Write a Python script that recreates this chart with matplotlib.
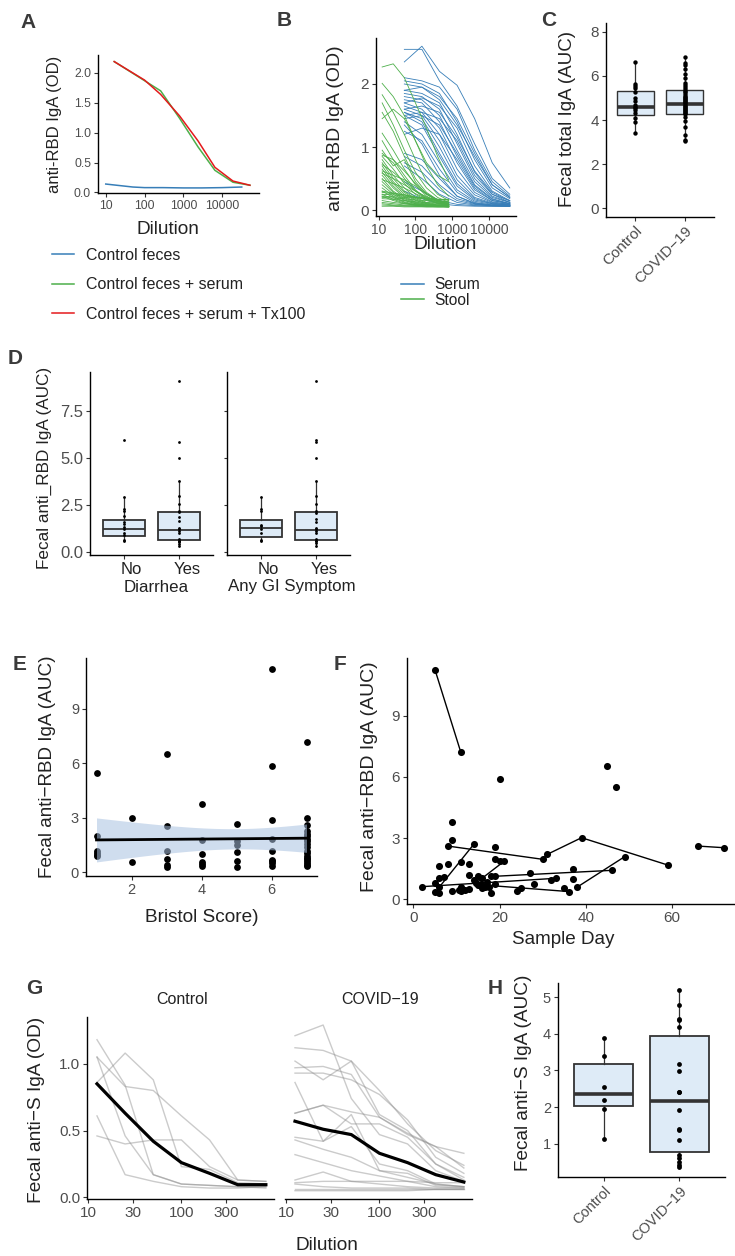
import numpy as np
import matplotlib
matplotlib.use('Agg')
import matplotlib.pyplot as plt
from matplotlib.ticker import NullLocator
from matplotlib.transforms import ScaledTranslation

plt.rcParams['font.family'] = ['Liberation Sans', 'DejaVu Sans']

# ---------------- DATA ----------------
# Panel A
A_dil_ctrl = [10, 50, 100, 300, 1000, 3000, 10000, 32000]
A_od_ctrl = [0.14, 0.09, 0.08, 0.08, 0.075, 0.075, 0.08, 0.09]
A_dil_serum = [16.5, 100, 260, 800, 2400, 6500, 19000, 52000]
A_od_serum = [2.19, 1.87, 1.70, 1.24, 0.76, 0.37, 0.17, 0.12]
A_od_tx = [2.19, 1.88, 1.64, 1.28, 0.86, 0.42, 0.19, 0.12]
A_labels = ['Control feces', 'Control feces + serum', 'Control feces + serum + Tx100']

# Panel B
B_serum_dil = [50, 150, 450, 1350, 4050, 12150, 36450]
B_serum_od = [
    [2.35, 2.60, 2.20, 1.98, 1.45, 0.75, 0.35],
    [2.55, 2.55, 2.05, 1.65, 1.05, 0.50, 0.25],
    [2.10, 2.05, 1.95, 1.60, 0.95, 0.45, 0.22],
    [2.05, 2.00, 1.85, 1.40, 0.80, 0.35, 0.18],
    [1.90, 1.85, 1.70, 1.20, 0.60, 0.25, 0.15],
    [1.85, 1.80, 1.60, 1.05, 0.50, 0.22, 0.12],
    [1.80, 1.75, 1.50, 0.95, 0.45, 0.20, 0.12],
    [1.75, 1.70, 1.40, 0.85, 0.38, 0.17, 0.10],
    [1.70, 1.60, 1.30, 0.75, 0.32, 0.15, 0.10],
    [1.65, 1.55, 1.20, 0.65, 0.28, 0.13, 0.09],
    [1.60, 1.50, 1.10, 0.55, 0.24, 0.12, 0.09],
    [1.55, 1.45, 1.00, 0.48, 0.20, 0.11, 0.08],
    [1.55, 1.40, 0.90, 0.42, 0.18, 0.10, 0.08],
    [1.50, 1.35, 0.85, 0.38, 0.16, 0.10, 0.08],
    [1.50, 1.55, 1.45, 1.10, 0.55, 0.25, 0.12],
    [1.45, 1.50, 1.35, 0.90, 0.40, 0.18, 0.10],
    [1.40, 1.20, 0.75, 0.32, 0.14, 0.09, 0.07],
    [1.25, 1.10, 0.65, 0.28, 0.12, 0.08, 0.07],
    [1.20, 1.30, 1.20, 0.80, 0.35, 0.15, 0.10],
    [0.90, 0.80, 0.50, 0.22, 0.11, 0.08, 0.07],
    [0.85, 0.70, 0.40, 0.18, 0.10, 0.07, 0.07],
    [0.75, 0.60, 0.32, 0.15, 0.09, 0.07, 0.06],
    [0.70, 0.50, 0.25, 0.12, 0.08, 0.07, 0.06],
    [1.70, 1.78, 1.65, 1.30, 0.70, 0.30, 0.15],
    [1.60, 1.65, 1.55, 1.15, 0.62, 0.28, 0.14],
    [1.90, 1.95, 1.80, 1.45, 0.90, 0.40, 0.20],
    [0.45, 0.30, 0.15, 0.09, 0.07, 0.06, 0.06],
    [0.30, 0.18, 0.10, 0.07, 0.06, 0.06, 0.06],
    [1.35, 1.05, 0.55, 0.22, 0.10, 0.07, 0.06],
    [2.00, 1.95, 1.75, 1.35, 0.85, 0.40, 0.20],
]
B_stool_dil = [12.5, 25, 50, 100, 200, 400, 800]
B_stool_od = [
    [2.27, 2.32, 2.10, 1.70, 1.30, 0.85, 0.48],
    [2.01, 1.80, 1.50, 1.10, 0.70, 0.40, 0.22],
    [1.83, 1.55, 1.20, 0.80, 0.45, 0.25, 0.15],
    [1.70, 1.35, 0.95, 0.60, 0.35, 0.20, 0.12],
    [1.55, 1.25, 0.85, 0.50, 0.28, 0.16, 0.10],
    [1.22, 0.95, 0.65, 0.40, 0.22, 0.13, 0.09],
    [1.10, 0.80, 0.55, 0.32, 0.18, 0.11, 0.08],
    [0.90, 0.75, 0.50, 0.30, 0.17, 0.11, 0.08],
    [0.85, 0.65, 0.42, 0.25, 0.15, 0.10, 0.07],
    [0.80, 0.55, 0.35, 0.20, 0.12, 0.09, 0.07],
    [0.75, 0.50, 0.30, 0.18, 0.11, 0.08, 0.07],
    [0.70, 0.45, 0.28, 0.16, 0.10, 0.08, 0.07],
    [0.65, 0.42, 0.25, 0.15, 0.10, 0.07, 0.06],
    [0.60, 0.38, 0.22, 0.13, 0.09, 0.07, 0.06],
    [0.55, 0.35, 0.20, 0.12, 0.09, 0.07, 0.06],
    [0.50, 0.30, 0.18, 0.11, 0.08, 0.07, 0.06],
    [0.45, 0.28, 0.16, 0.10, 0.08, 0.06, 0.06],
    [0.40, 0.25, 0.15, 0.10, 0.07, 0.06, 0.06],
    [0.35, 0.22, 0.13, 0.09, 0.07, 0.06, 0.06],
    [0.30, 0.20, 0.12, 0.08, 0.07, 0.06, 0.06],
    [0.25, 0.17, 0.11, 0.08, 0.07, 0.06, 0.05],
    [0.22, 0.15, 0.10, 0.08, 0.06, 0.06, 0.05],
    [0.20, 0.19, 0.18, 0.16, 0.15, 0.14, 0.14],
    [0.25, 0.24, 0.22, 0.20, 0.18, 0.17, 0.16],
    [0.18, 0.17, 0.15, 0.13, 0.12, 0.11, 0.10],
    [0.15, 0.12, 0.10, 0.08, 0.07, 0.06, 0.06],
    [0.12, 0.10, 0.08, 0.07, 0.06, 0.06, 0.05],
    [0.10, 0.08, 0.07, 0.06, 0.06, 0.05, 0.05],
    [0.08, 0.07, 0.06, 0.06, 0.05, 0.05, 0.05],
    [0.06, 0.06, 0.05, 0.05, 0.05, 0.05, 0.05],
    [0.95, 0.70, 0.80, 0.45, 0.25, 0.14, 0.09],
    [0.62, 0.55, 0.48, 0.38, 0.25, 0.15, 0.10],
    [0.72, 0.60, 0.45, 0.30, 0.20, 0.13, 0.09],
    [0.58, 0.50, 0.40, 0.30, 0.21, 0.14, 0.10],
    [0.48, 0.42, 0.35, 0.26, 0.18, 0.12, 0.09],
    [0.28, 0.26, 0.24, 0.21, 0.19, 0.17, 0.16],
    [0.22, 0.21, 0.20, 0.19, 0.18, 0.17, 0.17],
    [0.30, 0.27, 0.24, 0.20, 0.17, 0.15, 0.13],
    [1.45, 1.60, 1.45, 1.10, 0.75, 0.55, 0.45],
    [0.87, 0.80, 0.62, 0.42, 0.26, 0.16, 0.11],
]

# Panel C
C_groups = ['Control', 'COVID\u221219']
C_ctrl = [3.4, 3.9, 4.1, 4.3, 4.45, 4.55, 4.6, 4.7, 4.85, 5.0, 5.25, 5.45, 5.55, 5.65, 6.65]
C_covid = [3.05, 3.1, 3.3, 3.7, 3.95, 4.15, 4.25, 4.3, 4.35, 4.4, 4.45, 4.5, 4.55, 4.6,
           4.65, 4.7, 4.75, 4.8, 4.85, 4.9, 4.95, 5.0, 5.05, 5.1, 5.2, 5.25, 5.3, 5.4,
           5.5, 5.6, 5.7, 5.9, 6.1, 6.3, 6.5, 6.6, 6.85]
# box stats: q1, median, q3, whisker low, whisker high
C_box = [[4.22, 4.58, 5.33, 3.4, 6.65], [4.25, 4.73, 5.35, 3.05, 6.85]]

# Panel D
D_levels = ['No', 'Yes']
D_facets = ['Diarrhea', 'Any GI Symptom']
D_diar_no = [5.95, 2.9, 2.3, 2.2, 1.9, 1.6, 1.5, 1.3, 1.2, 1.0, 0.9, 0.65, 0.6]
D_diar_yes = [9.1, 5.85, 5.0, 3.75, 3.0, 2.55, 2.2, 2.1, 1.85, 1.65, 1.25, 1.2, 1.1,
              1.0, 0.7, 0.6, 0.55, 0.5, 0.4, 0.3]
D_gi_no = [2.9, 2.3, 2.2, 1.45, 1.4, 1.2, 1.0, 0.65, 0.6]
D_gi_yes = [9.1, 5.95, 5.85, 5.0, 3.75, 3.0, 2.55, 2.2, 2.05, 1.75, 1.6, 1.25, 1.2,
            1.1, 1.0, 0.7, 0.6, 0.55, 0.45, 0.3]
D_box_diar = [[0.82, 1.2, 1.68, 0.6, 2.9], [0.62, 1.18, 2.12, 0.3, 3.75]]
D_box_gi = [[0.78, 1.25, 1.72, 0.6, 2.9], [0.62, 1.15, 2.1, 0.3, 3.75]]

# Panel E
E_score = [1]*6 + [2]*2 + [3]*6 + [4]*6 + [5]*6 + [6]*9 + [7]*19
E_auc = [5.45, 2.0, 1.15, 1.05, 0.95, 0.9,
         3.0, 0.55,
         6.5, 2.55, 1.15, 0.75, 0.4, 0.3,
         3.75, 1.8, 1.0, 0.55, 0.45, 0.35,
         2.65, 1.7, 1.5, 1.1, 0.6, 0.3,
         11.2, 5.85, 2.9, 1.85, 1.2, 0.7, 0.6, 0.5, 0.35,
         7.2, 3.0, 2.6, 2.3, 2.1, 2.0, 1.85, 1.7, 1.55, 1.4, 1.2, 1.05, 0.9, 0.8, 0.75,
         0.6, 0.5, 0.4, 0.35]

# Panel F  (pid 0 = single sample, otherwise linked samples of one patient)
F_day = [5, 11, 8, 30, 31, 39, 59, 6, 14, 14.5, 21, 15, 36, 38, 49, 66, 72, 19, 46, 2, 33,
         20, 45, 47, 9, 9, 19, 19, 20, 37, 37, 35, 32, 27, 28, 25, 24, 18, 19, 18, 16.7,
         15, 14, 13, 13, 13, 11, 11, 11, 9, 8, 6, 6, 7, 5, 5, 6, 15.6, 16, 17, 12, 16,
         10.5, 17.5]
F_auc = [11.25, 7.2, 2.61, 1.96, 2.2, 3.02, 1.68, 0.6, 2.7, 0.8, 1.86, 0.72, 0.38, 0.6,
         2.09, 2.61, 2.53, 1.13, 1.42, 0.62, 1.03,
         5.9, 6.54, 5.49, 3.77, 2.9, 2.58, 2.0, 1.86, 1.49, 0.98, 0.57, 0.95, 1.27, 0.74,
         0.57, 0.39, 1.13, 0.74, 0.33, 0.62, 1.13, 0.93, 1.72, 1.19, 0.51, 1.81, 0.62,
         0.41, 0.39, 1.72, 1.65, 1.03, 1.1, 0.8, 0.38, 0.33, 0.74, 0.55, 0.85, 0.46,
         1.05, 0.47, 0.6]
F_pid = [1, 1, 2, 2, 2, 2, 2, 3, 3, 4, 4, 5, 5, 6, 6, 7, 7, 8, 8, 9, 9] + [0]*43

# Panel G
G_dil = [12.5, 25, 50, 100, 200, 400, 800]
G_ctrl = [
    [1.18, 0.84, 0.17, 0.10, 0.09, 0.08, 0.08],
    [1.05, 0.83, 0.80, 0.61, 0.43, 0.13, 0.12],
    [1.05, 0.46, 0.17, 0.10, 0.09, 0.08, 0.07],
    [0.86, 1.08, 0.88, 0.23, 0.21, 0.11, 0.10],
    [0.61, 0.17, 0.12, 0.08, 0.07, 0.07, 0.08],
    [0.46, 0.40, 0.43, 0.43, 0.23, 0.13, 0.12],
]
G_ctrl_mean = [0.85, 0.63, 0.42, 0.26, 0.18, 0.095, 0.095]
G_covid = [
    [1.21, 1.29, 0.74, 0.47, 0.40, 0.20, 0.12],
    [1.12, 1.10, 1.02, 0.80, 0.55, 0.35, 0.24],
    [1.02, 0.88, 1.02, 0.62, 0.50, 0.25, 0.13],
    [0.97, 0.98, 0.92, 0.60, 0.48, 0.38, 0.33],
    [0.93, 0.93, 0.88, 0.77, 0.58, 0.30, 0.18],
    [0.86, 0.42, 0.62, 0.20, 0.18, 0.09, 0.08],
    [0.63, 0.69, 0.64, 0.60, 0.47, 0.38, 0.22],
    [0.63, 0.69, 0.55, 0.55, 0.45, 0.25, 0.15],
    [0.45, 0.42, 0.53, 0.25, 0.20, 0.10, 0.08],
    [0.43, 0.36, 0.30, 0.20, 0.15, 0.10, 0.08],
    [0.32, 0.26, 0.20, 0.16, 0.12, 0.08, 0.07],
    [0.13, 0.19, 0.12, 0.10, 0.08, 0.07, 0.07],
    [0.11, 0.12, 0.12, 0.12, 0.12, 0.11, 0.11],
    [0.06, 0.06, 0.06, 0.06, 0.06, 0.06, 0.06],
    [0.05, 0.05, 0.05, 0.05, 0.05, 0.06, 0.06],
    [0.10, 0.08, 0.07, 0.07, 0.07, 0.06, 0.06],
]
G_covid_mean = [0.57, 0.51, 0.47, 0.33, 0.26, 0.17, 0.115]
G_facets = ['Control', 'COVID\u221219']

# Panel H
H_ctrl = [3.88, 3.4, 2.56, 2.18, 1.95, 1.13]
H_covid = [5.2, 4.8, 4.42, 4.38, 4.2, 3.18, 2.98, 2.42, 2.42, 1.92, 1.4, 1.38, 1.1,
           0.7, 0.6, 0.5, 0.42, 0.35]
H_box = [[2.02, 2.37, 3.18, 1.13, 3.88], [0.78, 2.17, 3.95, 0.33, 5.2]]

# ---------------- STYLE ----------------
BLUE = '#377EB8'
GREEN = '#4DAF4A'
RED = '#E41A1C'
BOXFILL = '#DEEBF7'
BOXEDGE = '#333333'
TICK_C = '#4D4D4D'
TITLE_C = '#222222'
LETTER_C = '#3A3A3A'

W, H = 735, 1256
fig = plt.figure(figsize=(W / 100, H / 100), dpi=100)


def add_ax(l, t, r, b):
    return fig.add_axes([l / W, 1 - b / H, (r - l) / W, (b - t) / H])


def ftext(x, y, s, **kw):
    return fig.text(x / W, 1 - y / H, s, **kw)


def style(ax, fs):
    for sp in ['top', 'right']:
        ax.spines[sp].set_visible(False)
    for sp in ['left', 'bottom']:
        ax.spines[sp].set_linewidth(1.0)
        ax.spines[sp].set_color('black')
    ax.tick_params(axis='both', direction='out', length=3, width=0.8, color='#333333',
                   labelsize=fs, labelcolor=TICK_C, pad=2)
    ax.patch.set_alpha(0)


def ylab(x, y, s, fs):
    ftext(x, y, s, rotation=90, ha='center', va='center', fontsize=fs, color=TITLE_C)


def xlab(x, y, s, fs):
    ftext(x, y, s, ha='center', va='center', fontsize=fs, color=TITLE_C)


def letter(x, y, s):
    ftext(x, y, s, ha='center', va='center', fontsize=15, fontweight='bold', color=LETTER_C)


def boxes(ax, stats, width, lw, mlw):
    st = [dict(q1=s[0], med=s[1], q3=s[2], whislo=s[3], whishi=s[4], fliers=[]) for s in stats]
    ax.bxp(st, positions=[1, 2], widths=width, showcaps=False, showfliers=False,
           patch_artist=True,
           boxprops=dict(facecolor=BOXFILL, edgecolor=BOXEDGE, linewidth=lw),
           medianprops=dict(color=BOXEDGE, linewidth=mlw, solid_capstyle='butt'),
           whiskerprops=dict(color=BOXEDGE, linewidth=0.9))


# ---------------- A ----------------
axA = add_ax(98, 55, 259, 193)
style(axA, 8.8)
lA1, = axA.plot(A_dil_ctrl, A_od_ctrl, color=BLUE, lw=1.1)
lA2, = axA.plot(A_dil_serum, A_od_serum, color=GREEN, lw=1.1)
lA3, = axA.plot(A_dil_serum, A_od_tx, color=RED, lw=1.1)
axA.set_xscale('log')
axA.set_xlim(10 ** 0.8, 10 ** 4.95)
axA.set_ylim(-0.01, 2.3)
axA.set_xticks([10, 100, 1000, 10000])
axA.set_xticklabels(['10', '100', '1000', '10000'])
axA.xaxis.set_minor_locator(NullLocator())
axA.set_yticks([0, 0.5, 1.0, 1.5, 2.0])
axA.set_yticklabels(['0.0', '0.5', '1.0', '1.5', '2.0'])
ylab(55, 124, 'anti-RBD IgA (OD)', 12)
xlab(168, 229, 'Dilution', 13.7)
fig.legend([lA1, lA2, lA3], A_labels, loc='upper left',
           bbox_to_anchor=(52 / W, 1 - 248 / H), frameon=False, fontsize=11.5,
           handlelength=1.4, handletextpad=0.75, labelspacing=0.9,
           borderaxespad=0, borderpad=0, labelcolor=TITLE_C)
letter(28, 22, 'A')

# ---------------- B ----------------
axB = add_ax(376, 38, 516, 216)
style(axB, 10)
for od in B_serum_od:
    axB.plot(B_serum_dil, od, color=BLUE, lw=0.6)
for od in B_stool_od:
    axB.plot(B_stool_dil, od, color=GREEN, lw=0.6)
axB.set_xscale('log')
axB.set_xlim(10 ** 0.93, 10 ** 4.73)
axB.set_ylim(-0.095, 2.73)
axB.set_xticks([10, 100, 1000, 10000])
axB.set_xticklabels(['10', '100', '1000', '10000'])
axB.xaxis.set_minor_locator(NullLocator())
axB.set_yticks([0, 1, 2])
axB.tick_params(axis='y', labelsize=11)
ylab(335, 128, 'anti\u2212RBD IgA (OD)', 14)
xlab(445, 244, 'Dilution', 13.8)
hB1 = plt.Line2D([], [], color=BLUE, lw=1.1)
hB2 = plt.Line2D([], [], color=GREEN, lw=1.1)
fig.legend([hB1, hB2], ['Serum', 'Stool'], loc='upper left',
           bbox_to_anchor=(401 / W, 1 - 277 / H), frameon=False, fontsize=11.2,
           handlelength=1.45, handletextpad=0.7, labelspacing=0.05,
           borderaxespad=0, borderpad=0, labelcolor=TITLE_C)
letter(284, 20, 'B')

# ---------------- C ----------------
axC = add_ax(606, 23, 714, 217)
style(axC, 11)
boxes(axC, C_box, 0.75, 1.0, 2.6)
axC.scatter([1] * len(C_ctrl), C_ctrl, s=10, color='black', zorder=3, linewidths=0)
axC.scatter([2] * len(C_covid), C_covid, s=10, color='black', zorder=3, linewidths=0)
axC.set_xlim(0.4, 2.6)
axC.set_ylim(-0.4, 8.4)
axC.set_yticks([0, 2, 4, 6, 8])
axC.set_xticks([1, 2])
axC.set_xticklabels(C_groups, rotation=45, ha='right', va='top', rotation_mode='anchor')
ylab(567, 119, 'Fecal total IgA (AUC)', 13.5)
letter(549, 20, 'C')

# ---------------- D ----------------
offD = ScaledTranslation(8 / 100, 0, fig.dpi_scale_trans)
for (l, r), pts, st, facet, show in [((90, 213), (D_diar_no, D_diar_yes), D_box_diar, D_facets[0], True),
                                     ((227, 350), (D_gi_no, D_gi_yes), D_box_gi, D_facets[1], False)]:
    ax = add_ax(l, 372, r, 555)
    style(ax, 12)
    boxes(ax, st, 0.75, 1.3, 1.3)
    ax.scatter([1] * len(pts[0]), pts[0], s=4, color='black', zorder=3, linewidths=0)
    ax.scatter([2] * len(pts[1]), pts[1], s=4, color='black', zorder=3, linewidths=0)
    ax.set_xlim(0.4, 2.6)
    ax.set_ylim(-0.17, 9.58)
    ax.set_yticks([0, 2.5, 5.0, 7.5])
    ax.set_yticklabels(['0.0', '2.5', '5.0', '7.5'])
    if not show:
        ax.tick_params(axis='y', labelleft=False, length=2)
    ax.set_xticks([1, 2])
    ax.set_xticklabels(D_levels)
    ax.tick_params(axis='x', labelcolor=TITLE_C, labelsize=12)
    for lab in ax.get_xticklabels():
        lab.set_transform(lab.get_transform() + offD)
    xlab((l + r) / 2 + 5 if show else (l + r) / 2 + 3, 587, facet, 12.2)
ylab(44, 468, 'Fecal anti_RBD IgA (AUC)', 12.3)
letter(15, 359, 'D')

# ---------------- E ----------------
axE = add_ax(86, 658, 317, 876)
style(axE, 10.5)
ex = np.array(E_score, dtype=float)
ey = np.array(E_auc, dtype=float)
axE.scatter(ex, ey, s=24, color='black', zorder=2, linewidths=0)
slope, icpt = np.polyfit(ex, ey, 1)
xs = np.linspace(ex.min(), ex.max(), 80)
n = len(ex)
resid = ey - (slope * ex + icpt)
sres = np.sqrt(np.sum(resid ** 2) / (n - 2))
se = sres * np.sqrt(1 / n + (xs - ex.mean()) ** 2 / np.sum((ex - ex.mean()) ** 2))
fit = slope * xs + icpt
axE.fill_between(xs, fit - 2.0 * se, fit + 2.0 * se, color='#A9C1E0', alpha=0.55, lw=0, zorder=3)
axE.plot(xs, fit, color='black', lw=2.0, zorder=4)
axE.set_xlim(0.7, 7.3)
axE.set_ylim(-0.2, 11.8)
axE.set_xticks([2, 4, 6])
axE.set_yticks([0, 3, 6, 9])
ylab(48, 767, 'Fecal anti\u2212RBD IgA (AUC)', 13.6)
xlab(202, 917, 'Bristol Score)', 13.7)
letter(20, 665, 'E')

# ---------------- F ----------------
axF = add_ax(407, 658, 735, 904)
style(axF, 11)
fd = np.array(F_day, dtype=float)
fa = np.array(F_auc, dtype=float)
fp = np.array(F_pid)
for pid in sorted(set(F_pid)):
    if pid == 0:
        continue
    m = fp == pid
    axF.plot(fd[m], fa[m], color='black', lw=1.0, zorder=2)
axF.scatter(fd, fa, s=26, color='black', zorder=3, linewidths=0)
axF.set_xlim(-1.5, 74.6)
axF.set_ylim(-0.23, 11.83)
axF.set_xticks([0, 20, 40, 60])
axF.set_yticks([0, 3, 6, 9])
ylab(370, 777, 'Fecal anti\u2212RBD IgA (AUC)', 14)
xlab(563, 939, 'Sample Day', 13.6)
letter(340, 665, 'F')

# ---------------- G ----------------
for (l, r), lines, mean, facet, show in [((87, 274), G_ctrl, G_ctrl_mean, G_facets[0], True),
                                         ((285, 472), G_covid, G_covid_mean, G_facets[1], False)]:
    ax = add_ax(l, 1017, r, 1199)
    style(ax, 11)
    for od in lines:
        ax.plot(G_dil, od, color='#8C8C8C', alpha=0.45, lw=1.0)
    ax.plot(G_dil, mean, color='black', lw=2.3, solid_joinstyle='round')
    ax.set_xscale('log')
    ax.set_xlim(10 ** 0.99, 10 ** 2.99)
    ax.set_ylim(-0.012, 1.35)
    ax.set_xticks([10, 30, 100, 300])
    ax.set_xticklabels(['10', '30', '100', '300'])
    ax.xaxis.set_minor_locator(NullLocator())
    ax.set_yticks([0, 0.5, 1.0])
    ax.set_yticklabels(['0.0', '0.5', '1.0'])
    if not show:
        ax.spines['left'].set_visible(False)
        ax.tick_params(axis='y', left=False, labelleft=False)
    xlab((l + r) / 2 + 2, 1000, facet, 11.5)
ylab(37, 1110, 'Fecal anti\u2212S IgA (OD)', 13.8)
xlab(327, 1246, 'Dilution', 13.7)
letter(34, 988, 'G')

# ---------------- H ----------------
axH = add_ax(558, 983, 725, 1177)
style(axH, 10.5)
boxes(axH, H_box, 0.77, 1.3, 2.6)
axH.scatter([1] * len(H_ctrl), H_ctrl, s=12, color='black', zorder=3, linewidths=0)
axH.scatter([2] * len(H_covid), H_covid, s=12, color='black', zorder=3, linewidths=0)
axH.set_xlim(0.4, 2.6)
axH.set_ylim(0.09, 5.39)
axH.set_yticks([1, 2, 3, 4, 5])
axH.set_xticks([1, 2])
axH.set_xticklabels(C_groups, rotation=45, ha='right', va='top', rotation_mode='anchor')
ylab(523, 1073, 'Fecal anti\u2212S IgA (AUC)', 13.7)
letter(495, 988, 'H')

fig.savefig('out.png', dpi=100, facecolor='white')
